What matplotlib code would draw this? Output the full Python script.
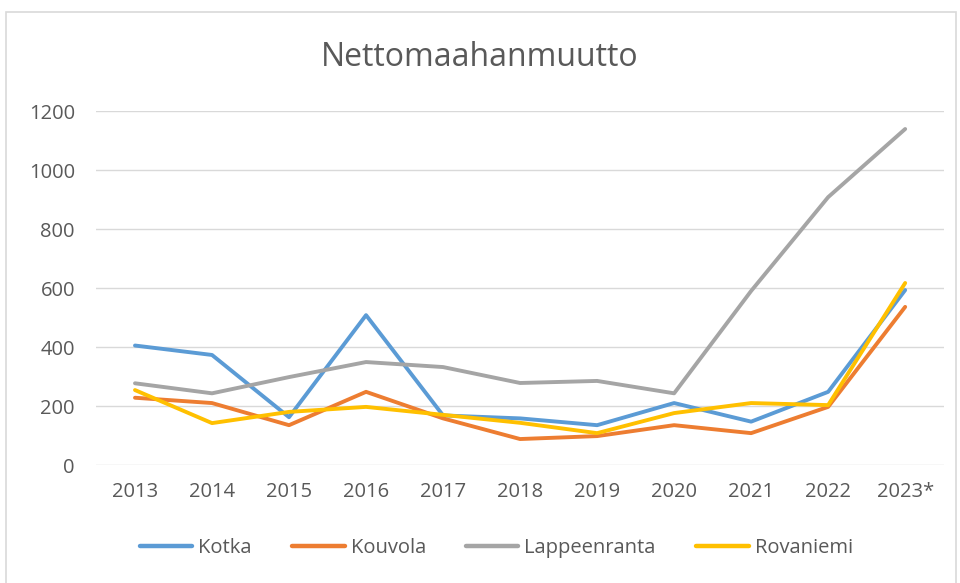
import matplotlib
matplotlib.use("Agg")
from matplotlib import pyplot as plt
from matplotlib.patches import FancyBboxPatch

# net immigration per city
years = ['2013', '2014', '2015', '2016', '2017', '2018', '2019', '2020', '2021', '2022', '2023*']
kotka = [405, 373, 162, 508, 168, 158, 135, 210, 147, 248, 593]
kouvola = [228, 210, 135, 248, 158, 88, 98, 135, 108, 197, 536]
lappeenranta = [277, 243, 298, 349, 332, 278, 285, 243, 590, 908, 1139]
rovaniemi = [254, 142, 180, 197, 170, 143, 108, 176, 210, 203, 617]

series = {"Kotka": kotka, "Kouvola": kouvola, "Lappeenranta": lappeenranta, "Rovaniemi": rovaniemi}
colors = ['#5B9BD5', '#ED7D31', '#A5A5A5', '#FFC000']

plt.rcParams['font.family'] = ['Open Sans', 'DejaVu Sans']
txt = '#595959'

fig = plt.figure(figsize=(9.6, 5.83), dpi=100)
# chart frame
fig.patches.append(FancyBboxPatch((0.006, -0.02), 0.99, 1.0, boxstyle="square,pad=0",
                                  transform=fig.transFigure, fill=False,
                                  edgecolor='#d9d9d9', linewidth=1.2))

ax = fig.add_axes([0.1005, 0.2024, 0.8825, 0.6072])
x = range(len(years))
count = 0
for name in series:
    ax.plot(x, series[name], color=colors[count], linewidth=2.8, label=name,
            solid_capstyle='round', solid_joinstyle='round')
    count += 1

ax.set_xlim(-0.5, len(years) - 0.5)
ax.set_ylim(0, 1200)
ax.set_yticks(range(0, 1201, 200))
ax.set_xticks(list(x))
ax.set_xticklabels(years)
ax.grid(axis='y', color='#d9d9d9', linewidth=1)
ax.set_axisbelow(True)
for s in ax.spines.values():
    s.set_visible(False)
ax.tick_params(length=0, labelsize=14.5, colors=txt, pad=12)
ax.tick_params(axis='y', pad=15.5)

fig.text(0.5, 0.902, 'Nettomaahanmuutto', ha='center', va='center', fontsize=23, color=txt)

leg = fig.legend(loc='center', bbox_to_anchor=(0.517, 0.06), ncol=4, frameon=False,
                 fontsize=14.5, handlelength=2.6, handletextpad=0.3, columnspacing=2.0)
for t in leg.get_texts():
    t.set_color(txt)
for l in leg.get_lines():
    l.set_linewidth(3.2)

plt.savefig('out.png', dpi=100)
